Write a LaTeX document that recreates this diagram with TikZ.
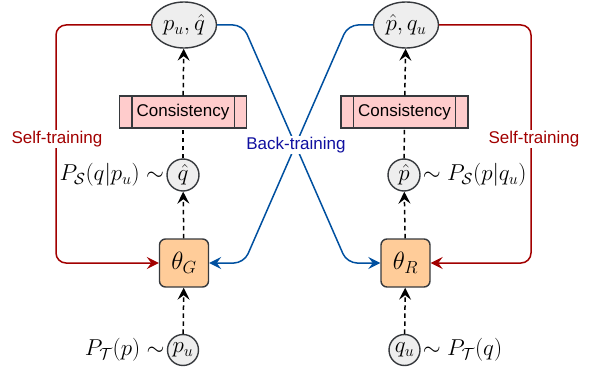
\RequirePackage{fix-cm}
\documentclass[tikz,border=0pt]{standalone}
\usepackage{fontspec}
\newfontfamily\labelfont{Liberation Sans}
\usetikzlibrary{arrows.meta,shapes.geometric}
\definecolor{strokegray}{HTML}{36393D}
\definecolor{ellfill}{HTML}{EEEEEE}
\definecolor{thetafill}{HTML}{FFCC99}
\definecolor{consfill}{HTML}{FFCCCC}
\definecolor{selfred}{HTML}{A20000}
\definecolor{backblue}{HTML}{0050A0}
\definecolor{backtext}{HTML}{1010A0}
\tikzset{
  mathtxt/.style={font=\fontsize{23}{27}\selectfont},
  sanstxt/.style={font=\labelfont\fontsize{17}{20}\selectfont},
  topell/.style={ellipse, draw=strokegray, fill=ellfill, line width=1.4pt, minimum width=65pt, minimum height=46pt, inner sep=0pt, mathtxt},
  smallcirc/.style={circle, draw=strokegray, fill=ellfill, line width=1.4pt, minimum size=32pt, inner sep=0pt, mathtxt},
  thetabox/.style={rectangle, rounded corners=6pt, draw=strokegray, fill=thetafill, line width=1.4pt, minimum width=49pt, minimum height=48pt, inner sep=0pt, font=\fontsize{25}{29}\selectfont},
  consbox/.style={rectangle, draw=strokegray, fill=consfill, line width=1.4pt, minimum width=127pt, minimum height=32pt, inner sep=0pt, sanstxt},
  arrowtip/.style={-{Stealth[length=12pt,width=12pt,inset=4.5pt]}},
  dashedflow/.style={draw=black, line width=1.5pt, dash pattern=on 4.5pt off 3.5pt, arrowtip},
  selfline/.style={draw=selfred, line width=1.5pt, rounded corners=10pt, arrowtip},
  backline/.style={draw=backblue, line width=1.5pt, rounded corners=10pt, arrowtip},
  sidelabel/.style={mathtxt, inner sep=2pt},
}
\begin{document}
\begin{tikzpicture}[x=1pt,y=-1pt]
\useasboundingbox (0,0) rectangle (591,374);
% main nodes
\node[topell] (e1) at (184,25) {$p_u,\hat q$};
\node[topell] (e2) at (406,25) {$\hat p, q_u$};
\node[smallcirc] (s1) at (183,175) {$\hat q$};
\node[smallcirc] (s2) at (404,175) {$\hat p$};
\node[thetabox] (g) at (184,263) {$\theta_G$};
\node[thetabox] (r) at (405.5,263) {$\theta_R$};
\node[smallcirc,minimum size=31pt] (pu) at (183,350) {$p_u$};
\node[smallcirc,minimum size=31pt] (qu) at (404.5,350) {$q_u$};
\node[consbox] (c1) at (183,112) {Consistency};
\node[consbox] (c2) at (404.5,112) {Consistency};
\draw[strokegray, line width=1.4pt] ([xshift=13pt]c1.north west) -- ([xshift=13pt]c1.south west)
  ([xshift=-13pt]c1.north east) -- ([xshift=-13pt]c1.south east);
\draw[strokegray, line width=1.4pt] ([xshift=13pt]c2.north west) -- ([xshift=13pt]c2.south west)
  ([xshift=-13pt]c2.north east) -- ([xshift=-13pt]c2.south east);
% side labels
\node[sidelabel, anchor=east] (l1) at (s1.west) {$P_{\mathcal{S}}(q|p_u)\sim$};
\node[sidelabel, anchor=west] (l2) at (s2.east) {$\sim P_{\mathcal{S}}(p|q_u)$};
\node[sidelabel, anchor=east] (l3) at (pu.west) {$P_{\mathcal{T}}(p)\sim$};
\node[sidelabel, anchor=west] (l4) at (qu.east) {$\sim P_{\mathcal{T}}(q)$};
% dashed flows
\path[dashedflow] (pu) -- (g);
\path[dashedflow] (g) -- (s1);
\path[dashedflow, -] (s1) -- (c1);
\path[dashedflow] (c1) -- (e1);
\path[dashedflow] (qu) -- (r);
\path[dashedflow] (r) -- (s2);
\path[dashedflow, -] (s2) -- (c2);
\path[dashedflow] (c2) -- (e2);
% self-training
\path[selfline] (e1.west) -- (56,25) -- (56,263) -- (g.west);
\path[selfline] (e2.east) -- (531,25) -- (531,263) -- (r.east);
\node[sanstxt, text=selfred, fill=white, inner sep=1pt] (st1) at (57,139) {Self-training};
\node[sanstxt, text=selfred, fill=white, inner sep=1pt] (st2) at (534,139) {Self-training};
% back-training
\path[backline] (e1.east) -- (243,25) -- (347,263) -- (r.west);
\path[backline] (e2.west) -- (348,25) -- (244,263) -- (g.east);
\node[sanstxt, text=backtext, fill=white, inner sep=1pt] (bt) at (296,145) {Back-training};
\end{tikzpicture}
\end{document}
